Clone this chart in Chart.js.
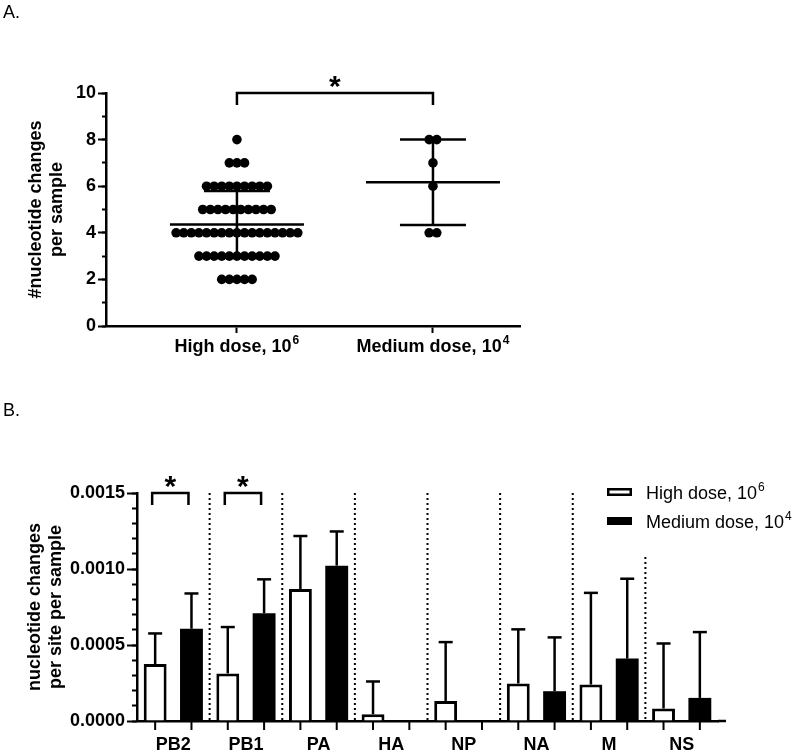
<!DOCTYPE html>
<html>
<head>
<meta charset="utf-8">
<script src="https://cdn.jsdelivr.net/npm/chart.js@4.4.1/dist/chart.umd.min.js"></script>
<style>
  body { margin: 0; background: #fff; font-family: "Liberation Sans", Arial, sans-serif; }
  #wrap { position: relative; width: 800px; height: 756px; overflow: hidden; }
  canvas { position: absolute; left: 0; }
  #chartA { top: 0; }
  #chartB { top: 430px; }
  .panel { position: absolute; left: 3px; font-size: 18px; line-height: 18px; color: #000; }
</style>
</head>
<body>
<div id="wrap">
  <canvas id="chartA" width="800" height="380"></canvas>
  <canvas id="chartB" width="800" height="326"></canvas>
  <div class="panel" style="top:3px">A.</div>
  <div class="panel" style="top:401px">B.</div>
</div>
<script>
// ---- panel A: nucleotide changes per sample, one dot per sample
var doseNames = ['High dose, 10', 'Medium dose, 10'];
var doseExp = ['6', '4'];
var highDose = [8,
  7, 7, 7,
  6, 6, 6, 6, 6, 6, 6, 6, 6,
  5, 5, 5, 5, 5, 5, 5, 5, 5, 5,
  4, 4, 4, 4, 4, 4, 4, 4, 4, 4, 4, 4, 4, 4, 4, 4, 4,
  3, 3, 3, 3, 3, 3, 3, 3, 3, 3, 3,
  2, 2, 2, 2, 2];
var mediumDose = [8, 8, 7, 6, 4, 4];
var yTicksA = [0, 2, 4, 6, 8, 10];

// ---- panel B: changes per site per sample, by segment (mean and SD)
var genes = ['PB2', 'PB1', 'PA', 'HA', 'NP', 'NA', 'M', 'NS'];
var highMean = [0.000375, 0.000313, 0.000868, 0.000044, 0.000132, 0.000247, 0.000240, 0.000082];
var highSD = [0.000201, 0.000305, 0.000349, 0.000216, 0.000387, 0.000356, 0.000603, 0.000428];
var mediumMean = [0.000607, 0.000709, 0.001022, 0, 0, 0.000196, 0.000411, 0.000152];
var mediumSD = [0.000232, 0.000223, 0.000225, 0, 0, 0.000354, 0.000525, 0.000433];
var sigGenes = ['PB2', 'PB1'];

var SUP = { '4': '\u2074', '6': '\u2076' };
var FAMILY = '"Liberation Sans", Arial, Helvetica, sans-serif';

Chart.defaults.font.family = FAMILY;
Chart.defaults.color = '#000';
Chart.defaults.animation = false;

var BOLD18 = { size: 18, weight: 'bold' };

function avg(a) {
  var s = 0;
  a.forEach(function (v) { s += v; });
  return s / a.length;
}
function stdev(a) {
  var m = avg(a), s = 0;
  a.forEach(function (v) { s += (v - m) * (v - m); });
  return Math.sqrt(s / (a.length - 1));
}
// spread equal values sideways around the category, like a dot plot
function swarm(values, center, step) {
  var counts = {}, seen = {}, pts = [];
  values.forEach(function (v) { counts[v] = (counts[v] || 0) + 1; });
  values.forEach(function (v) {
    var i = seen[v] || 0;
    seen[v] = i + 1;
    pts.push({ x: center + (i - (counts[v] - 1) / 2) * step, y: v });
  });
  return pts;
}
function seg(ctx, x1, y1, x2, y2) {
  ctx.beginPath();
  ctx.moveTo(x1, y1);
  ctx.lineTo(x2, y2);
  ctx.stroke();
}
function star(ctx, x, y) {
  ctx.fillStyle = '#000';
  ctx.font = 'bold 30px ' + FAMILY;
  ctx.textAlign = 'center';
  ctx.textBaseline = 'alphabetic';
  ctx.fillText('*', x, y);
}
// text with a raised exponent; align 'center' or 'left'
function supText(ctx, base, sup, x, baseline, weight, align) {
  var f1 = weight + ' 18px ' + FAMILY, f2 = weight + ' 12px ' + FAMILY;
  ctx.font = f1;
  var w1 = ctx.measureText(base).width;
  ctx.font = f2;
  var w2 = ctx.measureText(sup).width;
  var x0 = align === 'center' ? x - (w1 + w2 + 1) / 2 : x;
  ctx.fillStyle = '#000';
  ctx.textAlign = 'left';
  ctx.textBaseline = 'alphabetic';
  ctx.font = f1;
  ctx.fillText(base, x0, baseline);
  ctx.font = f2;
  ctx.fillText(sup, x0 + w1 + 1, baseline - 8);
}

var statsPlugin = {
  id: 'stats',
  afterDatasetsDraw: function (chart) {
    var ctx = chart.ctx, xs = chart.scales.x, ys = chart.scales.y, area = chart.chartArea;
    ctx.save();
    ctx.strokeStyle = '#000';
    ctx.lineWidth = 2.5;
    [highDose, mediumDose].forEach(function (vals, i) {
      var m = avg(vals), s = stdev(vals);
      var cx = xs.getPixelForValue(i + 1);
      var ym = ys.getPixelForValue(m);
      var yt = ys.getPixelForValue(m + s);
      var yb = ys.getPixelForValue(m - s);
      seg(ctx, cx - 67, ym, cx + 67, ym);
      seg(ctx, cx, yt, cx, yb);
      seg(ctx, cx - 33, yt, cx + 33, yt);
      seg(ctx, cx - 33, yb, cx + 33, yb);
      supText(ctx, doseNames[i], doseExp[i], cx, area.bottom + 26, 'bold', 'center');
    });
    // significance bracket between the two doses
    var x1 = xs.getPixelForValue(1), x2 = xs.getPixelForValue(2);
    var top = ys.getPixelForValue(10);
    ctx.beginPath();
    ctx.moveTo(x1, top + 12);
    ctx.lineTo(x1, top);
    ctx.lineTo(x2, top);
    ctx.lineTo(x2, top + 12);
    ctx.stroke();
    star(ctx, (x1 + x2) / 2, top + 3);
    ctx.restore();
  }
};

new Chart(document.getElementById('chartA'), {
  type: 'scatter',
  data: {
    datasets: [
      { label: doseNames[0] + SUP[doseExp[0]], data: swarm(highDose, 1, 0.0388), backgroundColor: '#000',
        borderColor: '#000', pointRadius: 4.8, pointBorderWidth: 0 },
      { label: doseNames[1] + SUP[doseExp[1]], data: swarm(mediumDose, 2, 0.0388), backgroundColor: '#000',
        borderColor: '#000', pointRadius: 4.8, pointBorderWidth: 0 }
    ]
  },
  options: {
    responsive: false,
    events: [],
    layout: { padding: { top: 93, right: 280, bottom: 0, left: 0 } },
    plugins: { legend: { display: false }, tooltip: { enabled: false } },
    scales: {
      x: {
        type: 'linear', min: 0.332, max: 2.444,
        afterBuildTicks: function (s) { s.ticks = [{ value: 1 }, { value: 2 }]; },
        afterFit: function (s) { s.height = 54; },
        grid: { drawOnChartArea: false, tickLength: 7, tickWidth: 2, tickColor: '#000' },
        border: { color: '#000', width: 2.5 },
        ticks: { display: false }
      },
      y: {
        min: 0, max: 10, weight: 1,
        afterBuildTicks: function (s) { s.ticks = yTicksA.map(function (v) { return { value: v }; }); },
        afterFit: function (s) { s.width = 106; },
        grid: { drawOnChartArea: false, tickLength: 8, tickWidth: 2, tickColor: '#000' },
        border: { color: '#000', width: 2.5 },
        ticks: { padding: 2, font: BOLD18 },
        title: { display: true, text: ['#nucleotide changes', 'per sample'],
          font: { size: 18, weight: 'bold', lineHeight: 1.17 }, padding: { top: 25.5, bottom: 0 } }
      },
      yMinor: {
        position: 'left', min: 0, max: 10,
        ticks: { display: false, stepSize: 1 },
        afterFit: function (s) { s.width = 0; },
        grid: { drawOnChartArea: false, tickLength: 4, tickWidth: 2, tickColor: '#000' },
        border: { display: false }
      }
    }
  },
  plugins: [statsPlugin]
});

var barPlugin = {
  id: 'barExtras',
  afterDatasetsDraw: function (chart) {
    var ctx = chart.ctx, xs = chart.scales.x, ys = chart.scales.y, area = chart.chartArea;
    var lgX = area.right - 111, lgY = area.top - 5, lgRow = 29;
    ctx.save();
    ctx.strokeStyle = '#000';

    // dotted separators between segments
    ctx.lineWidth = 2;
    ctx.setLineDash([2, 3]);
    for (var i = 1; i < genes.length; i++) {
      var x = (xs.getPixelForTick(i - 1) + xs.getPixelForTick(i)) / 2;
      var top = x > lgX ? area.top + 64 : area.top;
      seg(ctx, x, top, x, area.bottom);
    }
    ctx.setLineDash([]);

    // upper SD whiskers and a tick under every bar
    var sds = [highSD, mediumSD];
    chart.data.datasets.forEach(function (ds, d) {
      chart.getDatasetMeta(d).data.forEach(function (bar, j) {
        ctx.lineWidth = 2;
        seg(ctx, bar.x, area.bottom, bar.x, area.bottom + 9);
        if (!sds[d][j]) return;
        var yTop = ys.getPixelForValue(ds.data[j] + sds[d][j]);
        ctx.lineWidth = 2.5;
        seg(ctx, bar.x, bar.y, bar.x, yTop);
        seg(ctx, bar.x - 7, yTop, bar.x + 7, yTop);
      });
    });
    ctx.lineWidth = 2.5;
    seg(ctx, area.right, area.bottom, area.right + 8, area.bottom);

    // significance brackets
    sigGenes.forEach(function (g) {
      var k = genes.indexOf(g);
      var b0 = chart.getDatasetMeta(0).data[k], b1 = chart.getDatasetMeta(1).data[k];
      var t = ys.getPixelForValue(0.0015);
      ctx.lineWidth = 2.5;
      ctx.beginPath();
      ctx.moveTo(b0.x - 3, t + 12);
      ctx.lineTo(b0.x - 3, t);
      ctx.lineTo(b1.x - 3, t);
      ctx.lineTo(b1.x - 3, t + 12);
      ctx.stroke();
      star(ctx, (b0.x + b1.x) / 2 - 3, t + 3);
    });

    // legend
    chart.data.datasets.forEach(function (ds, d) {
      var y = lgY + d * lgRow;
      ctx.fillStyle = ds.backgroundColor;
      ctx.fillRect(lgX, y, 25, 8);
      if (ds.borderWidth) {
        ctx.lineWidth = 2.5;
        ctx.strokeRect(lgX + 1.25, y + 1.25, 22.5, 5.5);
      }
      supText(ctx, doseNames[d], doseExp[d], lgX + 39, y + 11, 'normal', 'left');
    });
    ctx.restore();
  }
};

new Chart(document.getElementById('chartB'), {
  type: 'bar',
  data: {
    labels: genes,
    datasets: [
      { label: doseNames[0] + SUP[doseExp[0]], data: highMean, backgroundColor: '#fff', borderColor: '#000', borderWidth: 3 },
      { label: doseNames[1] + SUP[doseExp[1]], data: mediumMean, backgroundColor: '#000', borderColor: '#000', borderWidth: 0 }
    ]
  },
  options: {
    responsive: false,
    events: [],
    layout: { padding: { top: 63, right: 82, bottom: 0, left: 0 } },
    datasets: { bar: { categoryPercentage: 1, barPercentage: 0.63 } },
    plugins: { legend: { display: false }, tooltip: { enabled: false } },
    scales: {
      x: {
        afterFit: function (s) { s.height = 35; },
        grid: { display: false, drawTicks: false },
        border: { color: '#000', width: 2.5 },
        ticks: { padding: 13, maxRotation: 0, autoSkip: false, font: BOLD18 }
      },
      y: {
        min: 0, max: 0.0015, weight: 1,
        afterFit: function (s) { s.width = 137; },
        grid: { drawOnChartArea: false, tickLength: 10, tickWidth: 2, tickColor: '#000' },
        border: { color: '#000', width: 2.5 },
        ticks: { stepSize: 0.0005, padding: 2, font: BOLD18,
          callback: function (v) { return v.toFixed(4); } },
        title: { display: true, text: ['nucleotide changes', 'per site per sample'],
          font: { size: 18, weight: 'bold', lineHeight: 1.17 }, padding: { top: 24.5, bottom: 0 } }
      },
      yMinor: {
        position: 'left', min: 0, max: 0.0015,
        ticks: { display: false, stepSize: 0.0001 },
        afterFit: function (s) { s.width = 0; },
        grid: { drawOnChartArea: false, tickLength: 5, tickWidth: 2, tickColor: '#000' },
        border: { display: false }
      }
    }
  },
  plugins: [barPlugin]
});
</script>
</body>
</html>
